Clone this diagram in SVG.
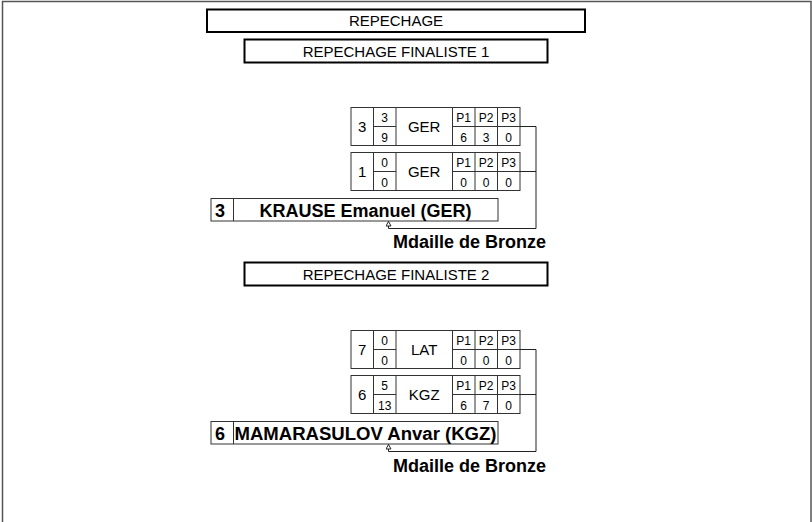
<svg xmlns="http://www.w3.org/2000/svg" width="812" height="522" viewBox="0 0 812 522">
<style>
text{font-family:"Liberation Sans",Arial,sans-serif;fill:#000}
.title{font-size:15px;text-anchor:middle}
.tbox{fill:#fff;stroke:#000;stroke-width:2}
.cell{fill:#fff;stroke:#333;stroke-width:1}
.ln{stroke:#333;stroke-width:1;fill:none}
.big{font-size:15px;text-anchor:middle}
.sm{font-size:12px;text-anchor:middle}
.win{font-size:18px;font-weight:bold}
.conn{stroke:#222;stroke-width:1;fill:none}
</style>
<defs>
<marker id="arr" viewBox="0 0 6 6" refX="5" refY="3" markerWidth="6" markerHeight="6" orient="auto" markerUnits="userSpaceOnUse">
<path d="M0.5,0.5 L5,3 L0.5,5.5 Z" fill="#fff" stroke="#222" stroke-width="1"/>
</marker>
</defs>
<rect width="812" height="522" fill="#fff"/>
<path d="M2.5,522 V1.5 H811 V522" fill="none" stroke="#555" stroke-width="1.5"/>

<g id="title-repechage">
<rect class="tbox" x="207" y="9.5" width="378" height="22.5"/>
<text class="title" x="396" y="26">REPECHAGE</text>
</g>
<g id="title-finaliste1">
<rect class="tbox" x="244.5" y="39.5" width="303" height="23"/>
<text class="title" x="396" y="56.5">REPECHAGE FINALISTE 1</text>
</g>

<g id="match1">
<rect class="cell" x="351" y="107.5" width="169" height="38"/>
<path class="ln" d="M373.5,107.5V145.5M396,107.5V145.5M452.5,107.5V145.5M475,107.5V145.5M497.5,107.5V145.5M373.5,126.5H396M452.5,126.5H520"/>
<text class="big" x="362.2" y="132">3</text>
<text class="sm" x="384.7" y="122">3</text>
<text class="sm" x="384.7" y="141.5">9</text>
<text class="big" x="424.2" y="132">GER</text>
<text class="sm" x="463.7" y="122">P1</text>
<text class="sm" x="486.2" y="122">P2</text>
<text class="sm" x="508.7" y="122">P3</text>
<text class="sm" x="463.7" y="141.5">6</text>
<text class="sm" x="486.2" y="141.5">3</text>
<text class="sm" x="508.7" y="141.5">0</text>
</g>
<g id="match2">
<rect class="cell" x="351" y="152.5" width="169" height="38"/>
<path class="ln" d="M373.5,152.5V190.5M396,152.5V190.5M452.5,152.5V190.5M475,152.5V190.5M497.5,152.5V190.5M373.5,171.5H396M452.5,171.5H520"/>
<text class="big" x="362.2" y="177">1</text>
<text class="sm" x="384.7" y="167">0</text>
<text class="sm" x="384.7" y="186.5">0</text>
<text class="big" x="424.2" y="177">GER</text>
<text class="sm" x="463.7" y="167">P1</text>
<text class="sm" x="486.2" y="167">P2</text>
<text class="sm" x="508.7" y="167">P3</text>
<text class="sm" x="463.7" y="186.5">0</text>
<text class="sm" x="486.2" y="186.5">0</text>
<text class="sm" x="508.7" y="186.5">0</text>
</g>
<g id="winner1">
<rect class="cell" x="211" y="198.5" width="287" height="22.5"/>
<path class="ln" d="M233.5,198.5V221"/>
<text class="win" x="220" y="216.5" text-anchor="middle">3</text>
<text class="win" x="365.5" y="216.5" text-anchor="middle">KRAUSE Emanuel (GER)</text>
</g>
<g id="medal1">
<text class="win" x="393" y="248">Mdaille de Bronze</text>
</g>

<g id="title-finaliste2">
<rect class="tbox" x="244.5" y="262.5" width="303" height="23"/>
<text class="title" x="396" y="279.5">REPECHAGE FINALISTE 2</text>
</g>

<g id="match3">
<rect class="cell" x="351" y="330.5" width="169" height="38"/>
<path class="ln" d="M373.5,330.5V368.5M396,330.5V368.5M452.5,330.5V368.5M475,330.5V368.5M497.5,330.5V368.5M373.5,349.5H396M452.5,349.5H520"/>
<text class="big" x="362.2" y="355">7</text>
<text class="sm" x="384.7" y="345">0</text>
<text class="sm" x="384.7" y="364.5">0</text>
<text class="big" x="424.2" y="355">LAT</text>
<text class="sm" x="463.7" y="345">P1</text>
<text class="sm" x="486.2" y="345">P2</text>
<text class="sm" x="508.7" y="345">P3</text>
<text class="sm" x="463.7" y="364.5">0</text>
<text class="sm" x="486.2" y="364.5">0</text>
<text class="sm" x="508.7" y="364.5">0</text>
</g>
<g id="match4">
<rect class="cell" x="351" y="375.5" width="169" height="38"/>
<path class="ln" d="M373.5,375.5V413.5M396,375.5V413.5M452.5,375.5V413.5M475,375.5V413.5M497.5,375.5V413.5M373.5,394.5H396M452.5,394.5H520"/>
<text class="big" x="362.2" y="400">6</text>
<text class="sm" x="384.7" y="390">5</text>
<text class="sm" x="384.7" y="409.5">13</text>
<text class="big" x="424.2" y="400">KGZ</text>
<text class="sm" x="463.7" y="390">P1</text>
<text class="sm" x="486.2" y="390">P2</text>
<text class="sm" x="508.7" y="390">P3</text>
<text class="sm" x="463.7" y="409.5">6</text>
<text class="sm" x="486.2" y="409.5">7</text>
<text class="sm" x="508.7" y="409.5">0</text>
</g>
<g id="winner2">
<rect class="cell" x="211" y="421.5" width="287" height="22.5"/>
<path class="ln" d="M233.5,421.5V444"/>
<text class="win" x="220" y="439.5" text-anchor="middle">6</text>
<text class="win" x="365.5" y="439.5" text-anchor="middle" textLength="262" lengthAdjust="spacingAndGlyphs">MAMARASULOV Anvar (KGZ)</text>
</g>
<g id="medal2">
<text class="win" x="393" y="471.5">Mdaille de Bronze</text>
</g>

<g id="connectors">
<path class="conn" d="M520,126.5H536V228.5H388.5V221.5" marker-end="url(#arr)"/>
<path class="conn" d="M520,171.5H536"/>
<path class="conn" d="M520,349.5H536V451.5H388.5V444.5" marker-end="url(#arr)"/>
<path class="conn" d="M520,394.5H536"/>
</g>
</svg>
